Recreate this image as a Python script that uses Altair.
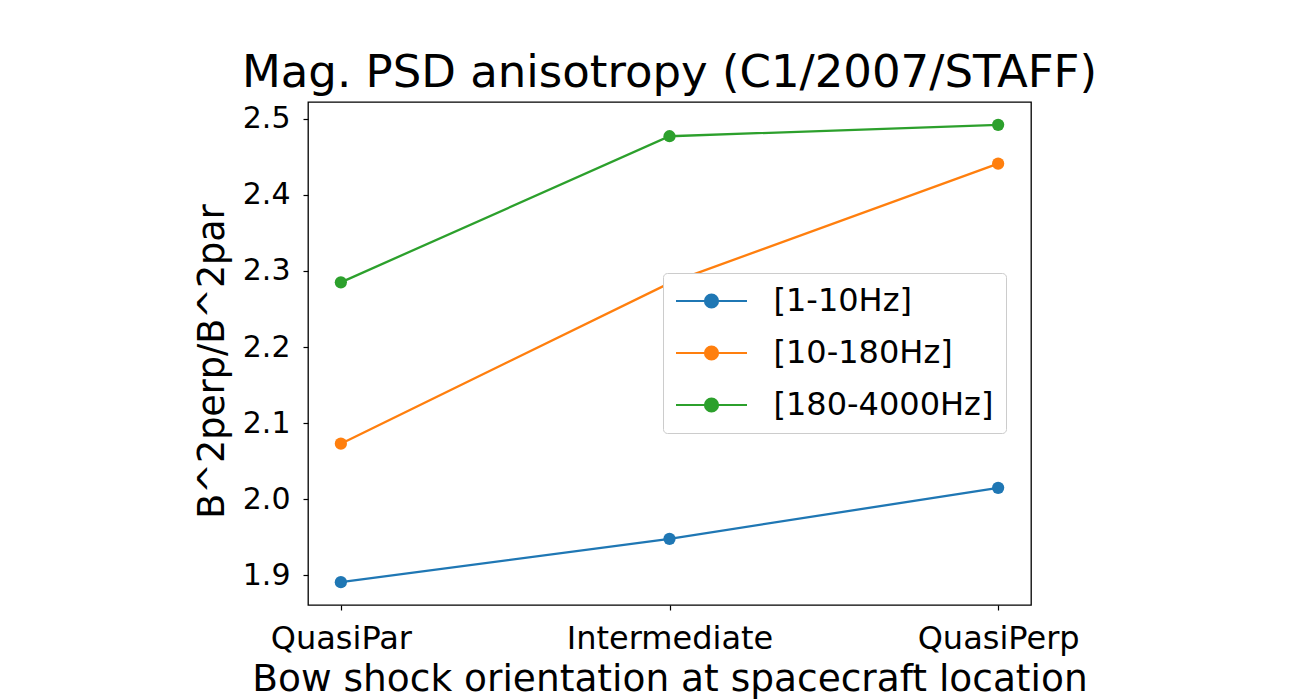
import altair as alt
import pandas as pd

categories = ["QuasiPar", "Intermediate", "QuasiPerp"]
series_names = ["[1-10Hz]", "[10-180Hz]", "[180-4000Hz]"]
vals_1_10 = [1.891, 1.948, 2.015]
vals_10_180 = [2.073, 2.284, 2.441]
vals_180_4000 = [2.285, 2.477, 2.492]
colors = ["#1f77b4", "#ff7f0e", "#2ca02c"]
y_ticks = [1.9, 2.0, 2.1, 2.2, 2.3, 2.4, 2.5]

rows = []
for name, vals in zip(series_names, [vals_1_10, vals_10_180, vals_180_4000]):
    for c, v in zip(categories, vals):
        rows.append({"orientation": c, "value": v, "band": name})
df = pd.DataFrame(rows)

FONT = "DejaVu Sans"

x_enc = alt.X(
    "orientation:N",
    sort=categories,
    scale=alt.Scale(type="point", padding=0.1),
    axis=alt.Axis(
        title="Bow shock orientation at spacecraft location",
        labelAngle=0,
        labelFontSize=32,
        labelLimit=1000,
        labelBaseline="alphabetic",
        labelPadding=38,
        tickSize=5,
        titleFontSize=37.5,
        titleBaseline="alphabetic",
        titleX=361.5,
        titleY=85,
        titleFontWeight="normal",
        titleLimit=2000,
    ),
)
y_enc = alt.Y(
    "value:Q",
    scale=alt.Scale(domain=[1.861, 2.522], nice=False, zero=False),
    axis=alt.Axis(
        title="B^2perp/B^2par",
        values=y_ticks,
        format=".1f",
        labelFontSize=30,
        labelPadding=13,
        tickSize=5,
        titleFontSize=36.5,
        titleFontWeight="normal",
        titleBaseline="alphabetic",
        titleAngle=-90,
        titleAlign="center",
        titleX=-85,
        titleY=259,
        titleLimit=2000,
    ),
)
color_enc = alt.Color(
    "band:N",
    sort=series_names,
    scale=alt.Scale(domain=series_names, range=colors),
    legend=alt.Legend(
        title=None,
        orient="none",
        legendX=355,
        legendY=171,
        labelFontSize=32,
        labelLimit=1000,
        labelOffset=46,
        symbolOffset=20.5,
        symbolSize=400,
        symbolStrokeWidth=2,
        symbolType="M -3.55 0 L 3.55 0 M -0.66 0 A 0.66 0.66 0 1 0 0.66 0 A 0.66 0.66 0 1 0 -0.66 0 Z",
        rowPadding=20,
        padding=12,
        fillColor="white",
        strokeColor="#cccccc",
        cornerRadius=4,
    ),
)

base = alt.Chart(df).encode(x=x_enc, y=y_enc, color=color_enc)
lines = base.mark_line(strokeWidth=2.3)
points = base.mark_point(filled=True, size=150, opacity=1)

chart = (
    alt.layer(lines, points)
    .properties(
        width=723,
        height=503,
        autosize=alt.AutoSizeParams(type="none"),
        padding={"left": 308, "top": 102, "right": 272, "bottom": 95},
        title=alt.TitleParams(
            "Mag. PSD anisotropy (C1/2007/STAFF)",
            fontSize=45,
            font=FONT,
            fontWeight="normal",
            color="black",
            anchor="middle",
            baseline="alphabetic",
            offset=-30,
        ),
    )
    .configure(font=FONT, background="white")
    .configure_view(stroke="black", strokeWidth=1.3)
    .configure_axis(
        domain=False,
        grid=False,
        labelColor="black",
        titleColor="black",
        tickColor="black",
        tickWidth=1.2,
        labelFont=FONT,
        titleFont=FONT,
    )
    .configure_legend(labelFont=FONT, labelColor="black")
)

chart.save("out.html", embed_options={"renderer": "svg", "actions": False})
